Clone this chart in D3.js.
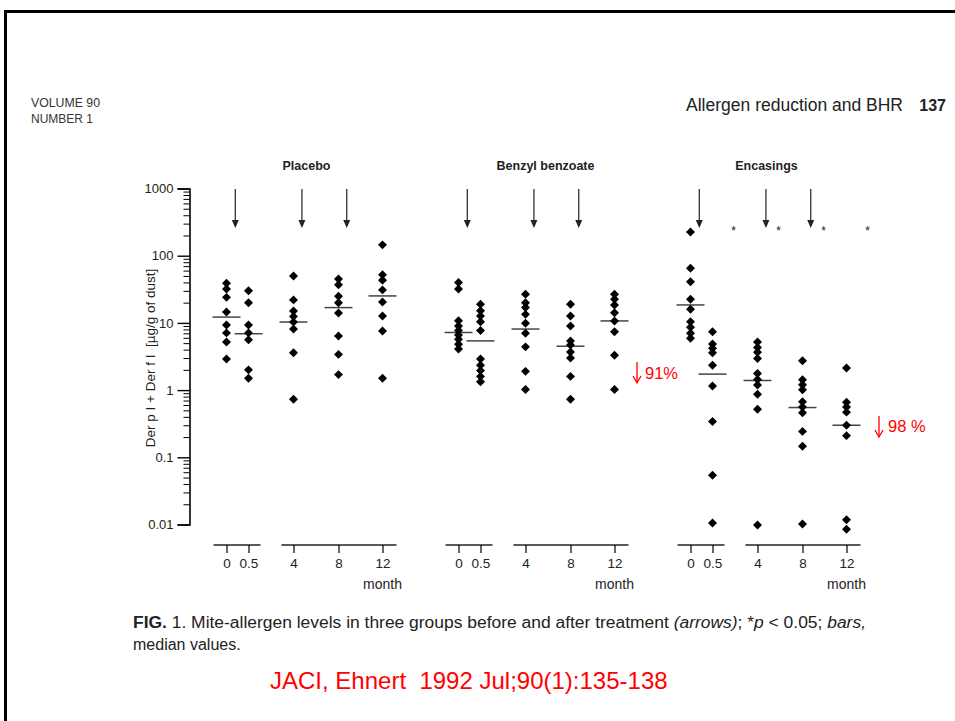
<!DOCTYPE html>
<html><head><meta charset="utf-8">
<script src="https://cdn.jsdelivr.net/npm/d3@7"></script>
<style>
body{margin:0;background:#fff;}
svg{display:block;font-family:"Liberation Sans",Arial,sans-serif;}
text{white-space:pre;}
</style></head>
<body><svg id="c" width="955" height="721"></svg>
<script>
// ---- data ----
const groups = ["Placebo", "Benzyl benzoate", "Encasings"];
const months = ["0", "0.5", "4", "8", "12"];
const yTickValues = [0.01, 0.1, 1, 10, 100, 1000];
const yTickLabels = ["0.01", "0.1", "1", "10", "100", "1000"];

const placeboValues = [
  [39, 32, 24, 14.5, 9.3, 7.1, 5.2, 2.9],
  [30, 20, 9.3, 7.1, 5.6, 2.0, 1.5],
  [50, 22, 15, 12.5, 10.3, 8.1, 3.6, 0.73],
  [45, 37, 25, 20, 14, 6.4, 3.4, 1.7],
  [145, 52, 43, 31, 20.5, 12.7, 7.6, 1.5]
];
const benzylValues = [
  [40, 32, 10.8, 9.0, 7.7, 6.6, 5.7, 4.8, 4.1],
  [19, 15.2, 12.7, 10.4, 7.7, 2.9, 2.35, 1.95, 1.6, 1.33],
  [26.7, 20, 17, 13.4, 9.9, 7.0, 4.4, 1.9, 1.02],
  [19, 12.7, 9.0, 5.4, 4.7, 3.7, 3.0, 1.6, 0.73],
  [26.7, 22.5, 18.5, 14.2, 10.7, 7.4, 3.3, 1.02]
];
const encasingValues = [
  [225, 65, 41, 22.5, 16, 10.4, 8.6, 7.0, 5.9],
  [7.4, 4.85, 4.2, 3.6, 2.35, 1.15, 0.34, 0.054, 0.0105],
  [5.2, 4.3, 3.65, 2.95, 1.77, 1.44, 1.19, 0.87, 0.52, 0.0098],
  [2.73, 1.43, 1.2, 1.01, 0.67, 0.56, 0.46, 0.243, 0.146, 0.0102],
  [2.13, 0.66, 0.56, 0.47, 0.30, 0.21, 0.0118, 0.0085]
];
const placeboMedians = [12.2, 6.9, 10.3, 16.9, 25.2];
const benzylMedians = [7.2, 5.4, 8.1, 4.5, 10.7];
const encasingMedians = [18.5, 1.73, 1.39, 0.55, 0.30];
const encasingSignificant = [false, true, true, true, true];
// treatment arrows, expressed as month positions on the group's time axis
const arrowMonths = [0.2, 4.75, 8.75];
const reductions = ["91%", "98 %"];

const groupValues = [placeboValues, benzylValues, encasingValues];
const groupMedians = [placeboMedians, benzylMedians, encasingMedians];
const groupSig = [null, null, encasingSignificant];

// ---- scales ----
const svg = d3.select("#c");
const y = d3.scaleLog().domain([0.01, 1000]).range([524.5, 188.5]);
const gx = d3.scalePoint().domain(groups).range([226.5, 690.5]);
const tx = d3.scaleOrdinal().domain(months).range([0, 22, 67, 112, 156]);
const tLin = d3.scaleLinear().domain([0, 0.5, 4, 8, 12]).range([0, 22, 67, 112, 156]);
const groupLabelDx = [80, 87, 76];

// frame
svg.append("rect").attr("x", 5.5).attr("y", 11.5).attr("width", 965).attr("height", 730)
  .attr("fill", "none").attr("stroke", "#000").attr("stroke-width", 3);

// header
svg.append("text").attr("x", 31).attr("y", 107).attr("font-size", 12.5).attr("fill", "#333")
  .attr("textLength", 69).attr("lengthAdjust", "spacingAndGlyphs").text("VOLUME 90");
svg.append("text").attr("x", 31).attr("y", 123).attr("font-size", 12.5).attr("fill", "#333")
  .attr("textLength", 62).attr("lengthAdjust", "spacingAndGlyphs").text("NUMBER 1");
svg.append("text").attr("x", 903).attr("y", 111).attr("font-size", 17.5).attr("text-anchor", "end")
  .attr("fill", "#222").text("Allergen reduction and BHR");
svg.append("text").attr("x", 946).attr("y", 111).attr("font-size", 16).attr("font-weight", "bold")
  .attr("text-anchor", "end").attr("fill", "#222").text("137");

// y axis
const yAxis = d3.axisLeft(y).tickValues(yTickValues).tickSize(12).tickPadding(4)
  .tickFormat((d, i) => yTickLabels[i]);
const yg = svg.append("g").attr("transform", "translate(189.5,0)").call(yAxis);
yg.select(".domain").attr("stroke-width", 1.6);
yg.selectAll(".tick line").attr("stroke-width", 1.4);
yg.selectAll("text").attr("font-size", 13).attr("fill", "#222").attr("font-family", "Liberation Sans, Arial, sans-serif");
const minor = [];
for (let e = -2; e < 3; e++) for (let m = 2; m <= 9; m++) minor.push(m * Math.pow(10, e));
const yMinor = d3.axisLeft(y).tickValues(minor).tickSize(6).tickFormat("");
const ym = svg.append("g").attr("transform", "translate(189.5,0)").call(yMinor);
ym.select(".domain").remove();
ym.selectAll(".tick line").attr("stroke-width", 1);

svg.append("text").attr("transform", "translate(155,358) rotate(-90)")
  .attr("text-anchor", "middle").attr("font-size", 13.5).attr("fill", "#222")
  .text("Der p I + Der f I  [µg/g of dust]");

// groups
groups.forEach((g, gi) => {
  const x0 = gx(g);
  const G = svg.append("g").attr("transform", `translate(${x0},0)`);
  G.append("text").attr("x", groupLabelDx[gi]).attr("y", 170).attr("text-anchor", "middle")
    .attr("font-size", 12.5).attr("font-weight", "bold").attr("fill", "#222").text(g);

  arrowMonths.forEach(m => {
    const ax = tLin(m);
    G.append("line").attr("x1", ax).attr("x2", ax).attr("y1", 189).attr("y2", 222)
      .attr("stroke", "#222").attr("stroke-width", 1.2);
    G.append("path").attr("d", `M${ax - 3.5},${220}L${ax + 3.5},${220}L${ax},${228}Z`).attr("fill", "#222");
  });

  const axY = 545;
  G.append("line").attr("x1", tx("0") - 13).attr("x2", tx("0.5") + 12).attr("y1", axY).attr("y2", axY)
    .attr("stroke", "#222").attr("stroke-width", 1.4);
  G.append("line").attr("x1", tx("4") - 12).attr("x2", tx("12") + 14).attr("y1", axY).attr("y2", axY)
    .attr("stroke", "#222").attr("stroke-width", 1.4);
  const xAxis = d3.axisBottom(tx).tickSize(8).tickPadding(5);
  const xg = G.append("g").attr("transform", `translate(0,${axY})`).call(xAxis);
  xg.select(".domain").remove();
  xg.selectAll(".tick line").attr("stroke-width", 1.2);
  xg.selectAll("text").attr("font-size", 13.5).attr("fill", "#222").attr("font-family", "Liberation Sans, Arial, sans-serif");
  G.append("text").attr("x", tx("12")).attr("y", 589).attr("text-anchor", "middle")
    .attr("font-size", 14).attr("fill", "#222").text("month");

  months.forEach((m, mi) => {
    const my = y(groupMedians[gi][mi]);
    G.append("line").attr("x1", tx(m) - 14).attr("x2", tx(m) + 14).attr("y1", my).attr("y2", my)
      .attr("stroke", "#444").attr("stroke-width", 1.5);
  });

  const sym = d3.symbol().type(d3.symbolSquare).size(40);
  months.forEach((m, mi) => {
    G.selectAll(null).data(groupValues[gi][mi]).enter().append("path")
      .attr("d", sym)
      .attr("transform", d => `translate(${tx(m)},${y(d)}) rotate(45)`)
      .attr("fill", "#000");
  });

  if (groupSig[gi]) {
    months.forEach((m, mi) => {
      if (groupSig[gi][mi]) {
        G.append("text").attr("x", tx(m) + 21).attr("y", 235).attr("text-anchor", "middle")
          .attr("font-size", 12).attr("fill", "#222").text("*");
      }
    });
  }
});

// red annotations: arrow + percentage
function redArrow(x, y1, y2) {
  svg.append("line").attr("x1", x).attr("x2", x).attr("y1", y1).attr("y2", y2)
    .attr("stroke", "#f00").attr("stroke-width", 1.3);
  svg.append("path").attr("d", `M${x - 4},${y2 - 7}L${x},${y2}L${x + 4},${y2 - 7}`)
    .attr("fill", "none").attr("stroke", "#f00").attr("stroke-width", 1.3);
}
redArrow(637, 362, 383);
svg.append("text").attr("x", 645).attr("y", 379).attr("font-size", 16.5).attr("fill", "#f00")
  .text(reductions[0]);
redArrow(879, 416, 437);
svg.append("text").attr("x", 888).attr("y", 432).attr("font-size", 16.5).attr("fill", "#f00")
  .text(reductions[1]);

// caption
const cap = svg.append("text").attr("x", 133).attr("y", 628).attr("font-size", 16).attr("fill", "#222")
  .attr("textLength", 733).attr("lengthAdjust", "spacingAndGlyphs");
cap.append("tspan").attr("font-weight", "bold").text("FIG.");
cap.append("tspan").text(" 1. Mite-allergen levels in three groups before and after treatment ");
cap.append("tspan").attr("font-style", "italic").text("(arrows)");
cap.append("tspan").text("; *");
cap.append("tspan").attr("font-style", "italic").text("p");
cap.append("tspan").text(" < 0.05; ");
cap.append("tspan").attr("font-style", "italic").text("bars,");
svg.append("text").attr("x", 133).attr("y", 650).attr("font-size", 16).attr("fill", "#222").text("median values.");

svg.append("text").attr("x", 270).attr("y", 689).attr("font-size", 24).attr("fill", "#f00")
  .text("JACI, Ehnert  1992 Jul;90(1):135-138");
</script></body></html>
